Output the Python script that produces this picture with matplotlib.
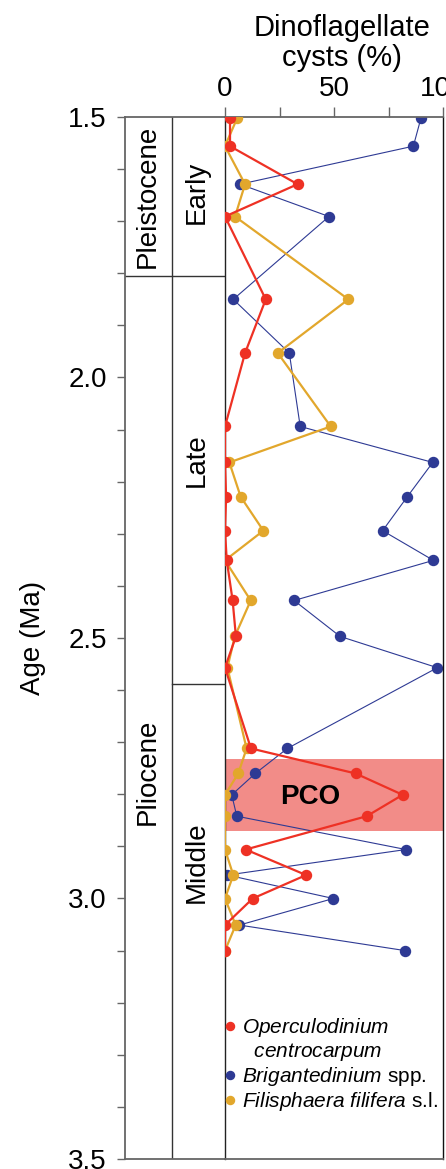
import matplotlib
matplotlib.use('Agg')
import matplotlib.pyplot as plt
from matplotlib.lines import Line2D
import numpy as np

plt.rcParams['font.family'] = ['Liberation Sans', 'DejaVu Sans']
plt.rcParams['mathtext.fontset'] = 'custom'
plt.rcParams['mathtext.it'] = 'Liberation Sans:italic'
plt.rcParams['mathtext.rm'] = 'Liberation Sans'

# sample ages (Ma)
age = [1.502, 1.556, 1.629, 1.691, 1.850, 1.953, 2.094, 2.163, 2.229, 2.294,
       2.351, 2.428, 2.497, 2.557, 2.712, 2.760, 2.801, 2.842, 2.906, 2.955,
       3.000, 3.051, 3.100]

# percentages
opercul = [2.3, 2.3, 33.3, 0, 18.7, 9.2, 0, 0, 0.5, 0,
           0.8, 3.5, 5.0, 0, 11.9, 59.9, 81.5, 65.0, 9.5, 37.2,
           12.7, 0, 0]
brigant = [89.9, 86.4, 6.9, 47.7, 3.8, 29.5, 34.5, 95.3, 83.6, 72.3,
           95.6, 31.7, 52.8, 97.4, 28.6, 13.9, 3.1, 5.4, 83.0, 1.1,
           49.7, 6.6, 82.6]
filisph = [5.6, 0, 9.2, 4.6, 56.6, 24.2, 48.5, 2.0, 7.2, 17.6,
           0, 11.8, 4.5, 1.1, 9.9, 6.1, 0, 0, 0, 3.8,
           0, 4.9, 0]

# stratigraphy
plio_pleist = 1.806
late_middle = 2.588
pco = (2.732, 2.870)

red = '#EE3124'
blue = '#2E3A94'
yellow = '#E2A72C'
grey = '#666666'

fig = plt.figure(figsize=(4.46, 11.69), dpi=100)
ax_s = fig.add_axes([125/446, 10/1169, 100/446, 1042/1169])
ax = fig.add_axes([225/446, 10/1169, 218/446, 1042/1169])

# --- stratigraphic column ---
ax_s.set_ylim(3.5, 1.5)
ax_s.set_xlim(0, 1)
ax_s.set_xticks([])
ax_s.set_yticks(np.arange(1.5, 3.51, 0.5))
ax_s.set_yticks(np.arange(1.5, 3.51, 0.1), minor=True)
ax_s.set_yticklabels(['1.5', '2.0', '2.5', '3.0', '3.5'])
ax_s.tick_params(axis='y', which='both', length=6, width=1, color=grey,
                 labelsize=20, pad=7)
for s in ['left', 'top', 'bottom']:
    ax_s.spines[s].set_color(grey)
    ax_s.spines[s].set_linewidth(1.3)
ax_s.spines['right'].set_visible(False)
ax_s.axvline(0.47, color='#333333', lw=1)
ax_s.axhline(plio_pleist, color='#333333', lw=1)
ax_s.plot([0.47, 1], [late_middle, late_middle], color='#333333', lw=1)
ax_s.set_ylabel('Age (Ma)', fontsize=20, labelpad=16)

ax_s.text(0.23, 1.653, 'Pleistocene', rotation=90, fontsize=20,
          ha='center', va='center')
ax_s.text(0.72, 1.644, 'Early', rotation=90, fontsize=20,
          ha='center', va='center')
ax_s.text(0.72, 2.158, 'Late', rotation=90, fontsize=20,
          ha='center', va='center')
ax_s.text(0.23, 2.757, 'Pliocene', rotation=90, fontsize=20,
          ha='center', va='center')
ax_s.text(0.72, 2.93, 'Middle', rotation=90, fontsize=20,
          ha='center', va='center')

# --- data panel ---
ax.set_xlim(0, 100)
ax.set_ylim(3.5, 1.5)
ax.axhspan(pco[0], pco[1], color='#F28C88', lw=0, zorder=0)
ax.text(39, 2.805, 'PCO', fontsize=20, fontweight='bold',
        ha='center', va='center')

ax.plot(brigant, age, '-o', color=blue, lw=0.8, ms=7.2, zorder=2)
ax.plot(filisph, age, '-o', color=yellow, lw=1.6, ms=7.2, zorder=3)
ax.plot(opercul, age, '-o', color=red, lw=1.6, ms=7.2, zorder=4)

ax.xaxis.tick_top()
ax.set_xticks([0, 25, 50, 75, 100])
ax.set_xticklabels(['0', '', '50', '', '100'])
ax.tick_params(axis='x', length=7, width=1, color=grey, labelsize=20, pad=4)
ax.set_yticks([])
for s in ['top', 'bottom']:
    ax.spines[s].set_color(grey)
    ax.spines[s].set_linewidth(1.3)
ax.spines['left'].set_color('#222222')
ax.spines['left'].set_linewidth(1)
ax.spines['right'].set_color('#111111')
ax.spines['right'].set_linewidth(1)

fig.text(342/446, 1 - 43/1169, 'Dinoflagellate\ncysts (%)', fontsize=21,
         ha='center', va='center', linespacing=1.1)

handles = [Line2D([], [], marker='o', ls='none', color=red, ms=5.8),
           Line2D([], [], ls='none'),
           Line2D([], [], marker='o', ls='none', color=blue, ms=5.8),
           Line2D([], [], marker='o', ls='none', color=yellow, ms=5.8)]
labels = [r'$\mathit{Operculodinium}$',
          r'  $\mathit{centrocarpum}$',
          r'$\mathit{Brigantedinium}$ spp.',
          r'$\mathit{Filisphaera\ filifera}$ s.l.']
ax.legend(handles, labels, loc='upper left', bbox_to_anchor=(0.0, 0.137),
          frameon=False, fontsize=15, handlelength=0.5, handletextpad=0.3,
          borderpad=0, borderaxespad=0, labelspacing=0.1)

fig.savefig('out.png', dpi=100)
